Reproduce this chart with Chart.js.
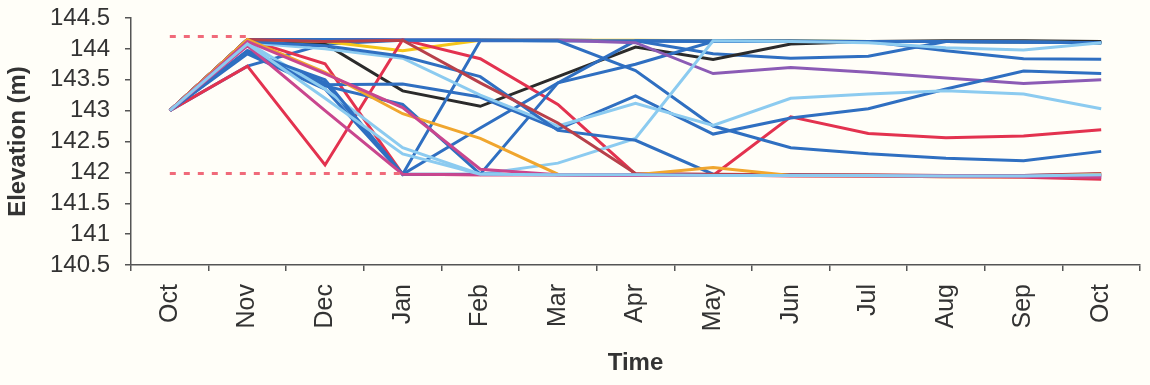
<!DOCTYPE html>
<html>
<head>
<meta charset="utf-8">
<script src="https://cdn.jsdelivr.net/npm/chart.js@4.4.1/dist/chart.umd.min.js"></script>
<style>
  html, body { margin: 0; padding: 0; background: #fffef8; }
  #wrap { width: 1150px; height: 385px; position: relative; }
</style>
</head>
<body>
<div id="wrap"><canvas id="c"></canvas></div>
<script>
// ---- data ----
const months = ['Oct','Nov','Dec','Jan','Feb','Mar','Apr','May','Jun','Jul','Aug','Sep','Oct'];
const yTicks = [140.5, 141, 141.5, 142, 142.5, 143, 143.5, 144, 144.5];

const dashTop    = [144.2, 144.2, null, null, null, null, null, null, null, null, null, null, null];
const dashBottom = [141.98, 141.98, 141.98, 141.98, null, null, null, null, null, null, null, null, null];

const s01 = [143.0,144.15,144.15,144.14,144.14,144.14,144.13,144.13,144.12,144.12,144.12,144.11,144.10];
const s02 = [143.0,143.72,144.08,144.14,144.14,144.13,144.13,144.12,144.12,144.12,144.12,144.11,144.11];
const s03 = [143.0,144.15,144.08,143.32,143.07,143.55,144.03,143.83,144.08,144.12,144.13,144.13,144.12];
const s04 = [143.0,144.15,144.12,143.97,144.14,144.14,144.14,144.13,144.13,144.12,144.12,144.11,144.10];
const s05 = [143.0,143.72,142.12,144.15,143.84,143.10,141.97,141.96,141.94,141.94,141.93,141.92,141.89];
const s06 = [143.0,144.15,143.76,141.97,141.96,141.96,141.95,141.95,142.90,142.63,142.56,142.59,142.69];
const s07 = [143.0,144.15,143.62,142.95,142.55,141.97,141.96,142.08,141.95,141.94,141.93,141.93,141.97];
const s08 = [143.0,144.12,143.60,143.05,142.05,141.96,141.96,141.95,141.95,141.95,141.94,141.94,141.95];
const s09 = [143.0,143.97,143.45,141.97,144.13,144.13,144.13,144.12,144.12,144.12,144.12,144.11,144.10];
const s10 = [143.0,143.92,143.35,141.97,142.72,143.45,143.75,144.12,144.12,144.12,144.12,144.11,144.10];
const s11 = [143.0,143.95,143.40,143.10,141.97,143.45,144.13,144.13,144.13,144.12,144.12,144.11,144.10];
const s12 = [143.0,144.15,144.15,144.14,144.14,144.14,144.10,143.60,143.70,143.62,143.53,143.44,143.50];
const s13 = [143.0,144.15,144.15,144.14,144.14,144.13,143.65,142.75,142.40,142.30,142.23,142.19,142.34];
const s14 = [143.0,143.97,143.42,143.43,143.22,142.70,143.24,142.62,142.88,143.03,143.35,143.64,143.60];
const s15 = [143.0,144.10,143.35,142.40,141.97,142.15,142.55,144.13,144.12,144.10,144.02,143.98,144.10];
const s16 = [143.0,144.10,144.00,143.85,143.25,142.75,143.12,142.76,143.20,143.27,143.32,143.27,143.03];
const s17 = [143.0,144.12,144.05,143.88,143.55,142.68,142.52,141.97,141.96,141.95,141.95,141.95,141.97];
const s18 = [143.0,144.05,143.00,141.97,141.96,141.96,141.95,141.95,141.95,141.94,141.94,141.93,141.92];
const s19 = [143.0,144.15,144.12,144.14,143.45,142.80,141.98,141.97,141.96,141.96,141.95,141.95,141.98];
const s20 = [143.0,144.15,144.15,144.14,144.14,144.14,144.13,143.92,143.85,143.88,144.12,144.12,144.10];
const s21 = [143.0,144.15,144.15,144.14,144.14,144.14,144.13,144.13,144.12,144.12,143.97,143.84,143.83];
const s22 = [143.0,144.08,143.20,142.30,141.97,141.96,141.96,141.95,141.95,141.95,141.94,141.94,141.96];
const s23 = [143.0,143.95,143.50,141.97,141.97,141.96,141.96,141.95,141.95,141.95,141.94,141.94,141.93];

// ---- styles ----
const BLUE = '#2f6fc1', LBLUE = '#8ccbf0', RED = '#e3324f', YEL = '#f5c518',
      BLK = '#2b2b2b', PUR = '#8b5bb5', MAG = '#c9468e', ORG = '#f0a62e', OLV = '#b8404a';

const series = [
  [s22, LBLUE], [s18, MAG], [s08, MAG], [s23, BLUE], [s07, ORG], [s19, OLV], [s17, BLUE],
  [s16, LBLUE], [s15, LBLUE], [s14, BLUE], [s13, BLUE], [s12, PUR],
  [s11, BLUE], [s10, BLUE], [s09, BLUE], [s06, RED], [s05, RED],
  [s04, YEL], [s03, BLK], [s21, BLUE], [s20, BLUE], [s02, BLUE], [s01, BLUE]
];

const datasets = [
  { data: dashTop, borderColor: '#f06a7a', borderWidth: 3, borderDash: [6, 8], pointRadius: 0, spanGaps: false },
  { data: dashBottom, borderColor: '#f06a7a', borderWidth: 3, borderDash: [6, 8], pointRadius: 0, spanGaps: false }
].concat(series.map(([d, c]) => ({
  data: d, borderColor: c, borderWidth: 3, pointRadius: 0, tension: 0, fill: false
})));

const TXT = '#333333';
new Chart(document.getElementById('c'), {
  type: 'line',
  data: { labels: months, datasets },
  options: {
    responsive: true,
    maintainAspectRatio: false,
    animation: false,
    layout: { padding: { top: 18, right: 10, left: 0, bottom: 0 } },
    plugins: { legend: { display: false }, tooltip: { enabled: false } },
    scales: {
      x: {
        type: 'category',
        offset: true,
        grid: { offset: true, drawOnChartArea: false, tickLength: 6, color: '#555', lineWidth: 1.5 },
        border: { color: '#555', width: 1.5 },
        ticks: {
          autoSkip: false, minRotation: 90, maxRotation: 90, padding: 13,
          color: TXT, font: { family: '"Liberation Sans", Arial, sans-serif', size: 25 }
        },
        title: {
          display: true, text: 'Time', color: TXT,
          font: { family: '"Liberation Sans", Arial, sans-serif', size: 24, weight: 'bold' },
          padding: { top: 0, bottom: 7 }
        },
        afterFit: (s) => { s.height = 120; }
      },
      y: {
        min: 140.5, max: 144.5,
        afterBuildTicks: (s) => { s.ticks = yTicks.map(v => ({ value: v })); },
        grid: { drawOnChartArea: false, tickLength: 6, color: '#555', lineWidth: 1.5 },
        border: { color: '#555', width: 1.5 },
        ticks: {
          autoSkip: false, padding: 15, color: TXT,
          font: { family: '"Liberation Sans", Arial, sans-serif', size: 24 },
          callback: (v) => String(+(+v).toFixed(1))
        },
        title: {
          display: true, text: 'Elevation (m)', color: TXT,
          font: { family: '"Liberation Sans", Arial, sans-serif', size: 24, weight: 'bold' },
          padding: { top: 4, bottom: 0 }
        },
        afterFit: (s) => { s.width = 131; s.paddingTop = 0; s.paddingBottom = 0; }
      }
    }
  }
});
</script>
</body>
</html>
